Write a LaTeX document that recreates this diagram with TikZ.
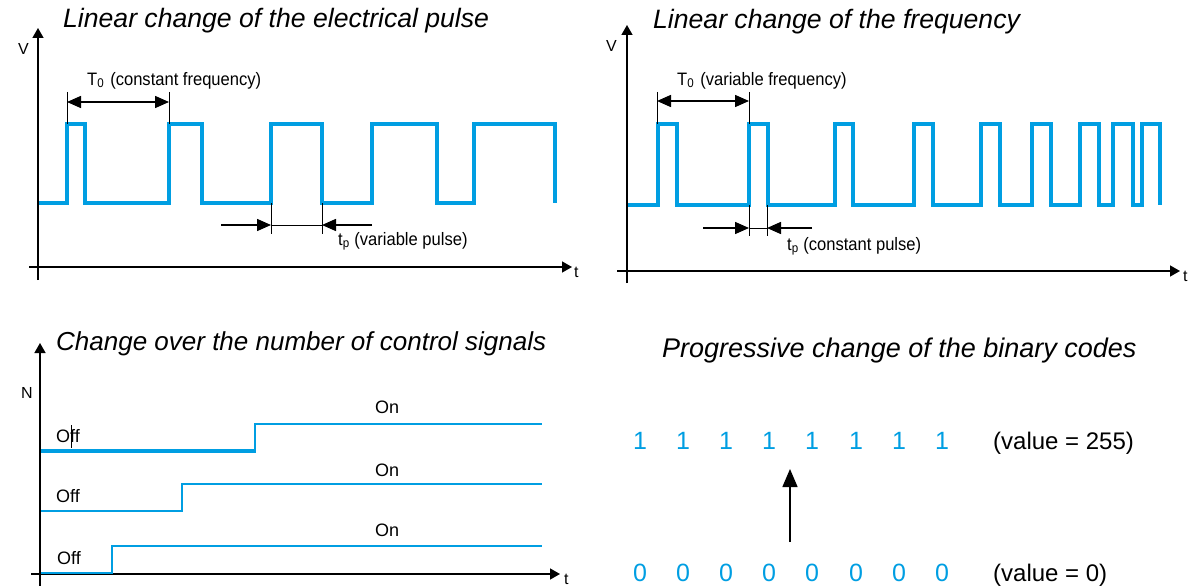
\documentclass[tikz,border=0pt]{standalone}
\usepackage{fontspec}
\setmainfont{Liberation Sans}
\newfontfamily\narrowf[FakeStretch=0.92]{Liberation Sans}
\usetikzlibrary{arrows.meta}
\definecolor{sig}{RGB}{0,158,226}
\begin{document}
\begin{tikzpicture}[x=1pt,y=-1pt,
  title/.style={anchor=base west,inner sep=0pt,font=\fontsize{26.6}{30}\selectfont\itshape},
  axis/.style={line width=1.5pt,-{Triangle[length=10pt,width=11pt]}},
  sigline/.style={sig,line width=3.4pt},
  sigthin/.style={sig,line width=2.8pt},
  dimarrow/.style={line width=1.5pt,-{Triangle[length=14pt,width=12pt]}},
  dimboth/.style={line width=1.5pt,{Triangle[length=14pt,width=12pt]}-{Triangle[length=14pt,width=12pt]}},
  ticklin/.style={line width=1pt},
  lbl/.style={anchor=base west,inner sep=0pt,font=\narrowf\fontsize{18}{20}\selectfont},
  axlbl/.style={anchor=base west,inner sep=0pt,font=\fontsize{16}{18}\selectfont},
  sw/.style={anchor=base west,inner sep=0pt,font=\fontsize{18}{20}\selectfont},
  bit/.style={anchor=base,inner sep=0pt,text=sig,font=\fontsize{25}{28}\selectfont},
  val/.style={anchor=base west,inner sep=0pt,font=\fontsize{24}{28}\selectfont}]
\useasboundingbox (0,0) rectangle (1200,586);

% ---------------- Panel 1 ----------------
\node[title] (t1) at (63,28) {Linear change of the electrical pulse};
\coordinate (p1o) at (38,280); \coordinate (p1y) at (38,28);
\draw[axis] (p1o) -- (p1y);
\coordinate (p1l) at (29,267); \coordinate (p1x) at (572,267);
\draw[axis] (p1l) -- (p1x);
\node[axlbl] (v1) at (18,55) {V};
\node[axlbl] (tt1) at (574,277) {t};
\draw[sigline] (39,203) -- (67,203) -- (67,124) -- (85,124) -- (85,203) -- (169,203) -- (169,124) -- (202,124) -- (202,203) -- (271,203) -- (271,124) -- (322,124) -- (322,203) -- (372,203) -- (372,124) -- (437,124) -- (437,203) -- (474,203) -- (474,124) -- (555,124) -- (555,203);
\coordinate (a1a) at (67,102); \coordinate (a1b) at (169,102);
\draw[ticklin] (67,92) -- (67,124);
\draw[ticklin] (169,92) -- (169,124);
\draw[dimboth] (a1a) -- (a1b);
\node[lbl] (T01) at (87,85) {T\textsubscript{0}\,\,(constant frequency)};
\draw[ticklin] (271,203) -- (271,234);
\draw[ticklin] (322,203) -- (322,234);
\coordinate (b1a) at (221,225); \coordinate (b1b) at (271,225);
\coordinate (b1c) at (372,225); \coordinate (b1d) at (322,225);
\draw[dimarrow] (b1a) -- (b1b);
\draw[dimarrow] (b1c) -- (b1d);
\draw[line width=0.9pt] (b1b) -- (b1d);
\node[lbl] (tp1) at (338,245) {t\textsubscript{p} (variable pulse)};

% ---------------- Panel 2 ----------------
\node[title] (t2) at (653,29) {Linear change of the frequency};
\coordinate (p2o) at (627,283); \coordinate (p2y) at (627,25);
\draw[axis] (p2o) -- (p2y);
\coordinate (p2l) at (617,271); \coordinate (p2x) at (1180,271);
\draw[axis] (p2l) -- (p2x);
\node[axlbl] (v2) at (606,52) {V};
\node[axlbl] (tt2) at (1183,281) {t};
\draw[sigline] (628,205) -- (658,205) -- (658,124) -- (677,124) -- (677,205) -- (749,205) -- (749,124) -- (768,124) -- (768,205) -- (835,205) -- (835,124) -- (853,124) -- (853,205) -- (914,205) -- (914,124) -- (933,124) -- (933,205) -- (981,205) -- (981,124) -- (1000,124) -- (1000,205) -- (1032,205) -- (1032,124) -- (1051,124) -- (1051,205) -- (1080,205) -- (1080,124) -- (1099,124) -- (1099,205) -- (1113,205) -- (1113,124) -- (1133,124) -- (1133,205) -- (1142,205) -- (1142,124) -- (1160,124) -- (1160,205);
\draw[ticklin] (657,92) -- (657,124);
\draw[ticklin] (749,92) -- (749,124);
\coordinate (a2a) at (657,101); \coordinate (a2b) at (749,101);
\draw[dimboth] (a2a) -- (a2b);
\node[lbl] (T02) at (677,85) {T\textsubscript{0}\,\,(variable frequency)};
\draw[ticklin] (749,205) -- (749,236);
\draw[ticklin] (767,205) -- (767,236);
\coordinate (b2a) at (703,228); \coordinate (b2b) at (749,228);
\coordinate (b2c) at (812,228); \coordinate (b2d) at (767,228);
\draw[dimarrow] (b2a) -- (b2b);
\draw[dimarrow] (b2c) -- (b2d);
\draw[line width=0.9pt] (b2b) -- (b2d);
\node[lbl] (tp2) at (787,250) {t\textsubscript{p} (constant pulse)};

% ---------------- Panel 3 ----------------
\node[title,font=\fontsize{26}{30}\selectfont\itshape] (t3) at (56,350) {Change over the number of control signals};
\coordinate (p3o) at (40,587); \coordinate (p3y) at (40,343);
\draw[axis] (p3o) -- (p3y);
\coordinate (p3l) at (31,574); \coordinate (p3x) at (560,574);
\draw[axis] (p3l) -- (p3x);
\node[axlbl] (n3) at (21,398) {N};
\node[axlbl] (tt3) at (564,584) {t};
\draw[sig,line width=3.6pt] (41,451) -- (255,451);
\draw[sigthin] (255,452.5) -- (255,424) -- (542,424);
\draw[sigthin] (41,511) -- (182,511) -- (182,484) -- (542,484);
\draw[sigthin] (41,573) -- (112,573) -- (112,546) -- (542,546);
\node[sw] (off1) at (56,442) {Off};
\draw[line width=0.8pt] (71,425) -- (71,448);
\node[sw] (off2) at (56,502) {Off};
\node[sw] (off3) at (57,564) {Off};
\node[sw] (on1) at (375,413) {On};
\node[sw] (on2) at (375,476) {On};
\node[sw] (on3) at (375,536) {On};

% ---------------- Panel 4 ----------------
\node[title,font=\fontsize{27}{30}\selectfont\itshape] (t4) at (662,357) {Progressive change of the binary codes};
\foreach \x [count=\i] in {640,683,726,769,812,856,899,942}{
  \node[bit] (one\i) at (\x,449) {1};
  \node[bit] (zero\i) at (\x,581) {0};
}
\node[val] (v255) at (993,449) {(value = 255)};
\node[val] (v0) at (993,581) {(value = 0)};
\coordinate (up1) at (790,542); \coordinate (up2) at (790,469);
\draw[line width=1.5pt,-{Triangle[length=18pt,width=15pt]}] (up1) -- (up2);
\end{tikzpicture}
\end{document}
